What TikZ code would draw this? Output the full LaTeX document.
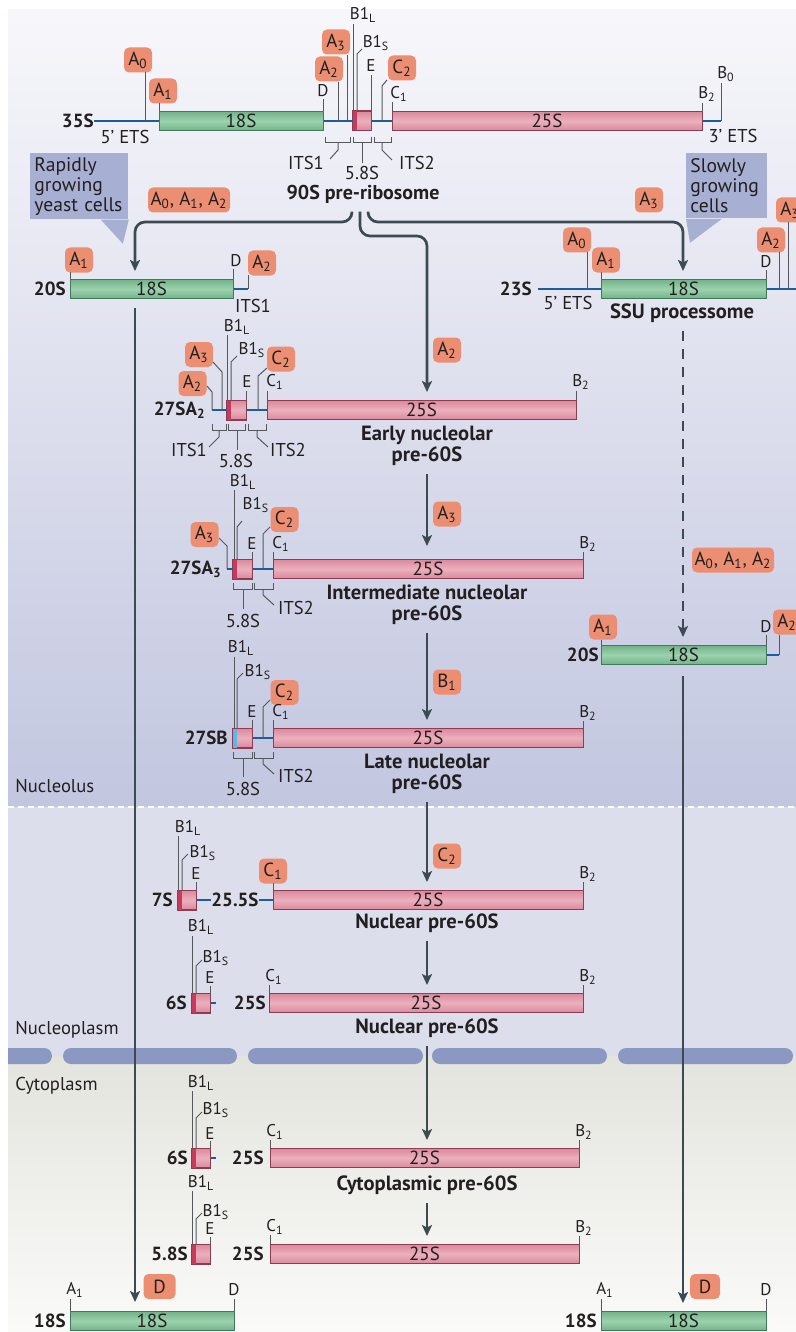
\documentclass[tikz,border=0pt]{standalone}
\usepackage{fontspec}
\setmainfont{PT Sans}
\usepackage{xcolor}
\usepackage{tikz}
\usetikzlibrary{arrows.meta, positioning, calc}

\definecolor{tagfill}{HTML}{EB8E71}
\definecolor{greenfill}{HTML}{9CD2AE}
\definecolor{greenedge}{HTML}{72B389}
\definecolor{greenline}{HTML}{3F7A5A}
\definecolor{pinkfill}{HTML}{EBB0BD}
\definecolor{pinkedge}{HTML}{DB8A9D}
\definecolor{pinkline}{HTML}{8C3D52}
\definecolor{pinkdark}{HTML}{C8395E}
\definecolor{stripeblue}{HTML}{5BB8E6}
\definecolor{rnablue}{HTML}{1E5C9E}
\definecolor{tickgray}{HTML}{55595E}
\definecolor{arrowgray}{HTML}{3D4A53}
\definecolor{lavender}{HTML}{A7B0D3}
\definecolor{nucltop}{HTML}{F7F7FB}
\definecolor{nuclbot}{HTML}{C2C6DF}
\definecolor{nucleoplasm}{HTML}{DCDEEC}
\definecolor{cytotop}{HTML}{E4E4DE}
\definecolor{cytobot}{HTML}{FAFAF9}
\definecolor{membrane}{HTML}{8A98C2}
\definecolor{textdark}{HTML}{231F20}

\newcommand{\lo}[1]{\textsubscript{#1}}

\begin{document}
\begin{tikzpicture}[
  x=0.5pt, y=-0.5pt,
  every node/.style={text=textdark},
  flow/.style={draw=arrowgray, line width=1.35pt, -{Stealth[length=5.5pt, width=5pt, inset=1.2pt]}, shorten >=4pt, shorten <=3pt},
  rna/.style={draw=rnablue, line width=1.3pt},
  cut/.style={draw=tickgray, line width=0.5pt},
  bar18/.style={draw=greenline, top color=greenedge, bottom color=greenedge, middle color=greenfill, line width=0.5pt, minimum height=9.5pt, inner sep=0pt, font=\fontsize{9.5}{10}\selectfont},
  bar25/.style={bar18, draw=pinkline, top color=pinkedge, bottom color=pinkedge, middle color=pinkfill},
  box58/.style={bar25, minimum width=9pt},
  tag/.style={fill=tagfill, rounded corners=2.5pt, minimum width=14pt, minimum height=12.5pt, inner sep=1pt, font=\fontsize{9.5}{10}\selectfont},
  site/.style={inner sep=0.5pt, font=\fontsize{8.5}{9}\selectfont},
  rnaname/.style={inner sep=0pt, font=\fontsize{9.5}{10}\selectfont\bfseries},
  stage/.style={inner sep=1pt, align=center, font=\fontsize{10.3}{10.5}\selectfont\bfseries},
  note/.style={inner sep=0pt, font=\fontsize{9.3}{10}\selectfont},
  cellbox/.style={fill=lavender, anchor=north west, inner sep=2pt, align=left, font=\fontsize{9.8}{10}\selectfont}
]

\useasboundingbox (0,0) rectangle (796,1332);
\begin{scope}
\clip (0,0) rectangle (796,1332);

% compartments
\fill[white] (0,0) rectangle (796,1332);
\shade[top color=nucltop, bottom color=nuclbot] (8,10) rectangle (796,807);
\fill[nucleoplasm] (8,807) rectangle (796,1056);
\shade[top color=cytotop, bottom color=cytobot] (8,1056) rectangle (796,1332);
\draw[white, line width=1pt, dash pattern=on 3pt off 2pt] (8,807) -- (796,807);
\begin{scope}
\clip (8,1040) rectangle (796,1070);
\foreach \a/\b in {-20/52, 63/237, 248/423, 432/607, 618/793}
  \fill[membrane, rounded corners=4pt] (\a,1048) rectangle (\b,1064);
\end{scope}
\node[note, anchor=west] (nucleolus) at (15,786) {Nucleolus};
\node[note, anchor=west] (nucleoplasm) at (15,1030) {Nucleoplasm};
\node[note, anchor=west] (cytoplasm) at (15,1086) {Cytoplasm};

% 35S primary transcript
\node[rnaname, anchor=east] (n35) at (94,121) {35S};
\node[bar18, minimum width=82pt] (s35a) at (241,121) {18S};
\node[box58] (s35b) at (362,121) {};
\fill[pinkdark] (s35b.north west) rectangle ([xshift=2pt]s35b.south west);
\draw[pinkline, line width=0.5pt] (s35b.north west) rectangle (s35b.south east);
\node[bar25, minimum width=155pt] (s35c) at (547,121) {25S};
\draw[rna] (n35.east) -- (s35a.west);
\draw[rna] (s35a.east) -- (s35b.west);
\draw[rna] (s35b.east) -- (s35c.west);
\draw[rna] (s35c.east) -- (721,121);
\node[tag] (a0top) at (138,60) {A\lo{0}};
\draw[cut] (145,72) -- (145,121);
\node[tag] (a1top) at (163,91) {A\lo{1}};
\draw[cut] (159,103) -- (159,111);
\node[site] (dtop) at (323,91) {D};
\draw[cut] (323,99) -- (323,111);
\node[tag] (a2top) at (329,69) {A\lo{2}};
\draw[cut] (338,82) -- (338,121);
\node[tag] (a3top) at (336,42) {A\lo{3}};
\draw[cut] (347,55) -- (347,121);
\node[site] (b1ltop) at (363,15) {B1\lo{L}};
\draw[cut] (353,24) -- (353,111);
\node[site] (b1stop) at (376,43) {B1\lo{S}};
\draw[cut] (357,111) -- (357,54) -- (362,49);
\node[site] (etop) at (371,66) {E};
\draw[cut] (371,75) -- (371,111);
\node[tag] (c2top) at (402,68) {C\lo{2}};
\draw[cut] (387,80) -- (382,86) -- (382,121);
\node[site] (c1top) at (399,94) {C\lo{1}};
\draw[cut] (392,102) -- (392,111);
\node[site] (b2top) at (707,94) {B\lo{2}};
\draw[cut] (702,103) -- (702,111);
\node[site] (b0top) at (726,74) {B\lo{0}};
\draw[cut] (721,83) -- (721,121);
\node[note] (ets5top) at (125,137) {5’ ETS};
\node[note] (ets3top) at (733,136) {3’ ETS};
\draw[cut] (325,137) -- (325,143) -- (350,143) -- (350,137);
\draw[cut] (338,143) -- (338,150) -- (330,159);
\node[note] (its1top) at (306,163) {ITS1};
\draw[cut] (353,137) -- (353,143) -- (371,143) -- (371,137);
\draw[cut] (362,143) -- (362,163);
\node[note] (s58top) at (362,173) {5.8S};
\draw[cut] (374,137) -- (374,143) -- (391,143) -- (391,137);
\draw[cut] (382,143) -- (382,150) -- (392,160);
\node[note] (its2top) at (417,163) {ITS2};
\node[stage, font=\fontsize{10}{10.5}\selectfont\bfseries] (n90) at (363,194) {90S pre-ribosome};

% growth conditions
\node[cellbox, text width=45pt, minimum height=32.5pt] (rapid) at (30,153) {Rapidly\\growing\\yeast cells};
\fill[lavender] ([xshift=-14pt]rapid.south east) -- (rapid.south east) -- ([xshift=-3pt, yshift=-12pt]rapid.south east) -- cycle;
\node[cellbox, text width=36.5pt, minimum height=32.5pt] (slow) at (686,153) {Slowly\\growing\\cells};
\fill[lavender] (slow.south west) -- ([xshift=18pt]slow.south west) -- ([xshift=2pt, yshift=-12pt]slow.south west) -- cycle;
\node[tag, minimum width=41pt] (fastcut) at (189,200) {A\lo{0}, A\lo{1}, A\lo{2}};
\node[tag] (slowcut) at (649,200) {A\lo{3}};

% 20S (fast route)
\node[rnaname, anchor=east] (n20a) at (66,289) {20S};
\node[bar18, minimum width=81.5pt] (s20a) at (151.5,289) {18S};
\draw[rna] (s20a.east) -- (248,289);
\node[tag] (a1l) at (79,260) {A\lo{1}};
\draw[cut] (70,272) -- (70,279);
\node[site] (dl) at (236,261) {D};
\draw[cut] (233,269) -- (233,279);
\node[tag] (a2l) at (262,263) {A\lo{2}};
\draw[cut] (248,275) -- (248,289);
\node[note] (its1l) at (253,306) {ITS1};

% 23S (slow route)
\node[rnaname, anchor=east] (n23) at (532,289) {23S};
\node[bar18, minimum width=82.5pt] (s23) at (683.5,289) {18S};
\draw[rna] (538,289) -- (s23.west);
\draw[rna] (s23.east) -- (800,289);
\node[tag] (a0r) at (577,240) {A\lo{0}};
\draw[cut] (587,252) -- (587,289);
\node[tag] (a1r) at (606,260) {A\lo{1}};
\draw[cut] (601,272) -- (601,279);
\node[note] (ets5r) at (568,303) {5’ ETS};
\node[stage] (ssu) at (682,313) {SSU processome};
\node[site] (dr) at (766,262) {D};
\draw[cut] (766,270) -- (766,279);
\node[tag] (a2r) at (771,240) {A\lo{2}};
\draw[cut] (779,252) -- (779,289);
\node[tag] (a3r) at (790,210) {A\lo{3}};
\draw[cut] (788,222) -- (788,289);

% 20S (slow route)
\node[rnaname, anchor=east] (n20b) at (599,655) {20S};
\node[bar18, minimum width=82.5pt] (s20b) at (683.5,655) {18S};
\draw[rna] (s20b.east) -- (779,655);
\node[tag] (a1m) at (603,627) {A\lo{1}};
\draw[cut] (601,640) -- (601,645);
\node[site] (dm) at (766,627) {D};
\draw[cut] (766,635) -- (766,645);
\node[tag] (a2m) at (787,622) {A\lo{2}};
\draw[cut] (779,635) -- (779,655);
\node[tag, minimum width=41pt] (slowcut2) at (733,560) {A\lo{0}, A\lo{1}, A\lo{2}};

% 27SA2
\node[rnaname, anchor=east] (n27a2) at (206,410) {27SA\lo{2}};
\node[box58, minimum width=9.5pt] (b27a) at (236.5,410) {};
\fill[pinkdark] (b27a.north west) rectangle ([xshift=2pt]b27a.south west);
\draw[pinkline, line width=0.5pt] (b27a.north west) rectangle (b27a.south east);
\node[bar25, minimum width=154.5pt] (r27a) at (421.5,410) {25S};
\draw[rna] (212,410) -- (b27a.west);
\draw[rna] (b27a.east) -- (r27a.west);
\node[tag] (a2s) at (192.5,383.5) {A\lo{2}};
\draw[cut] (207,386) -- (212,392) -- (212,410);
\node[tag] (a3s) at (199,354.5) {A\lo{3}};
\draw[cut] (213,362) -- (222,372) -- (222,410);
\node[site] (b1la) at (237,327) {B1\lo{L}};
\draw[cut] (227,335) -- (227,400);
\node[site] (b1sa) at (252,350) {B1\lo{S}};
\draw[cut] (231,400) -- (231,362) -- (237,356);
\node[site] (ea) at (247,382) {E};
\draw[cut] (246,391) -- (246,400);
\node[tag] (c2a) at (281,359) {C\lo{2}};
\draw[cut] (267,368) -- (258,376) -- (258,410);
\node[site] (c1a) at (275,382) {C\lo{1}};
\draw[cut] (267,391) -- (267,400);
\node[site] (b2a) at (581,382) {B\lo{2}};
\draw[cut] (576,391) -- (576,400);
\draw[cut] (212,424) -- (212,430) -- (226,430) -- (226,424);
\draw[cut] (219,430) -- (219,437) -- (209,447);
\node[note] (its1a) at (189,450) {ITS1};
\draw[cut] (228,424) -- (228,430) -- (245,430) -- (245,424);
\draw[cut] (237,430) -- (237,450);
\node[note] (s58a) at (236,461) {5.8S};
\draw[cut] (248,424) -- (248,430) -- (266,430) -- (266,424);
\draw[cut] (257,430) -- (257,437) -- (268,447);
\node[note] (its2a) at (288,450) {ITS2};
\node[stage] (n27a) at (427,446) {Early nucleolar\\pre-60S};

% 27SA3
\node[rnaname, anchor=east] (n27a3) at (222,569) {27SA\lo{3}};
\node[box58, minimum width=9.5pt] (b27b) at (242.5,569) {};
\fill[pinkdark] (b27b.north west) rectangle ([xshift=2pt]b27b.south west);
\draw[pinkline, line width=0.5pt] (b27b.north west) rectangle (b27b.south east);
\node[bar25, minimum width=155pt] (r27b) at (428,569) {25S};
\draw[rna] (227,569) -- (b27b.west);
\draw[rna] (b27b.east) -- (r27b.west);
\node[tag] (a3b) at (204.5,534.5) {A\lo{3}};
\draw[cut] (219,538) -- (227,546) -- (227,569);
\node[site] (b1lb) at (243,482) {B1\lo{L}};
\draw[cut] (234,490) -- (234,559);
\node[site] (b1sb) at (256,505) {B1\lo{S}};
\draw[cut] (237,559) -- (237,527) -- (242,521);
\node[site] (eb) at (252,544) {E};
\draw[cut] (252,552) -- (252,559);
\node[tag] (c2b) at (284.5,519.5) {C\lo{2}};
\draw[cut] (270,527) -- (263,534) -- (263,569);
\node[site] (c1b) at (281,544) {C\lo{1}};
\draw[cut] (273,552) -- (273,559);
\node[site] (b2b) at (588,544) {B\lo{2}};
\draw[cut] (583,552) -- (583,559);
\draw[cut] (233,583) -- (233,589) -- (252,589) -- (252,583);
\draw[cut] (243,589) -- (243,609);
\node[note] (s58b) at (243,621) {5.8S};
\draw[cut] (254,583) -- (254,589) -- (273,589) -- (273,583);
\draw[cut] (263,589) -- (263,595) -- (274,605);
\node[note] (its2b) at (296,608) {ITS2};
\node[stage] (n27b) at (427,605) {Intermediate nucleolar\\pre-60S};

% 27SB
\node[rnaname, anchor=east] (n27sb) at (228,738) {27SB};
\node[box58, minimum width=9.5pt] (b27c) at (242.5,738) {};
\fill[stripeblue] (b27c.north west) rectangle ([xshift=2pt]b27c.south west);
\draw[pinkline, line width=0.5pt] (b27c.north west) rectangle (b27c.south east);
\node[bar25, minimum width=155pt] (r27c) at (428,738) {25S};
\draw[rna] (b27c.east) -- (r27c.west);
\node[site] (b1lc) at (241,648) {B1\lo{L}};
\draw[cut] (234,657) -- (234,728);
\node[site] (b1sc) at (258,672) {B1\lo{S}};
\draw[cut] (237,728) -- (237,679) -- (243,673);
\node[site] (ec) at (252,712) {E};
\draw[cut] (252,720) -- (252,728);
\node[tag] (c2c) at (284.5,692.5) {C\lo{2}};
\draw[cut] (270,700) -- (263,707) -- (263,738);
\node[site] (c1c) at (281,712) {C\lo{1}};
\draw[cut] (273,720) -- (273,728);
\node[site] (b2c) at (588,713) {B\lo{2}};
\draw[cut] (583,721) -- (583,728);
\draw[cut] (233,752) -- (233,758) -- (252,758) -- (252,752);
\draw[cut] (243,758) -- (243,777);
\node[note] (s58c) at (243,789) {5.8S};
\draw[cut] (254,752) -- (254,758) -- (273,758) -- (273,752);
\draw[cut] (263,758) -- (263,764) -- (274,774);
\node[note] (its2c) at (296,776) {ITS2};
\node[stage] (n27c) at (427,774) {Late nucleolar\\pre-60S};

% 7S and 25.5S
\node[rnaname, anchor=east] (n7s) at (173,900) {7S};
\node[box58] (b7) at (187,900) {};
\fill[pinkdark] (b7.north west) rectangle ([xshift=2pt]b7.south west);
\draw[pinkline, line width=0.5pt] (b7.north west) rectangle (b7.south east);
\node[rnaname] (n255) at (235,900) {25.5S};
\node[bar25, minimum width=155pt] (r7) at (428,900) {25S};
\draw[rna] (b7.east) -- (n255.west);
\draw[rna] (n255.east) -- (r7.west);
\node[site] (b1ld) at (188,828) {B1\lo{L}};
\draw[cut] (178,836) -- (178,890);
\node[site] (b1sd) at (203,853) {B1\lo{S}};
\draw[cut] (182,890) -- (182,860) -- (188,854);
\node[site] (ed) at (196,874) {E};
\draw[cut] (196,882) -- (196,890);
\node[tag] (c1d) at (273,871) {C\lo{1}};
\draw[cut] (273,883) -- (273,890);
\node[site] (b2d) at (588,874) {B\lo{2}};
\draw[cut] (583,882) -- (583,890);
\node[stage] (n7) at (427,923) {Nuclear pre-60S};

% 6S nuclear
\node[rnaname, anchor=east] (n6sa) at (187,1003) {6S};
\node[box58] (b6a) at (201,1003) {};
\fill[pinkdark] (b6a.north west) rectangle ([xshift=2pt]b6a.south west);
\draw[pinkline, line width=0.5pt] (b6a.north west) rectangle (b6a.south east);
\draw[rna] (b6a.east) -- (216,1003);
\node[rnaname, anchor=east] (n25a) at (266,1003) {25S};
\node[bar25, minimum width=157pt] (r6a) at (426,1003) {25S};
\node[site] (b1le) at (201,927) {B1\lo{L}};
\draw[cut] (192,936) -- (192,993);
\node[site] (b1se) at (216,958) {B1\lo{S}};
\draw[cut] (196,993) -- (196,966) -- (202,960);
\node[site] (ee) at (210,978) {E};
\draw[cut] (210,986) -- (210,993);
\node[site] (c1e) at (274,977) {C\lo{1}};
\draw[cut] (269,985) -- (269,993);
\node[site] (b2e) at (588,977) {B\lo{2}};
\draw[cut] (583,985) -- (583,993);
\node[stage] (n6a) at (427,1028) {Nuclear pre-60S};

% 6S cytoplasmic
\node[rnaname, anchor=east] (n6sb) at (188,1158) {6S};
\node[box58] (b6b) at (201,1158) {};
\fill[pinkdark] (b6b.north west) rectangle ([xshift=2pt]b6b.south west);
\draw[pinkline, line width=0.5pt] (b6b.north west) rectangle (b6b.south east);
\draw[rna] (b6b.east) -- (216,1158);
\node[rnaname, anchor=east] (n25b) at (264,1158) {25S};
\node[bar25, minimum width=154.5pt] (r6b) at (424.5,1158) {25S};
\node[site] (b1lf) at (201,1083) {B1\lo{L}};
\draw[cut] (192,1091) -- (192,1148);
\node[site] (b1sf) at (216,1110) {B1\lo{S}};
\draw[cut] (196,1148) -- (196,1118) -- (202,1112);
\node[site] (ef) at (210,1134) {E};
\draw[cut] (210,1141) -- (210,1148);
\node[site] (c1f) at (275,1132) {C\lo{1}};
\draw[cut] (270,1140) -- (270,1148);
\node[site] (b2f) at (584,1132) {B\lo{2}};
\draw[cut] (579,1140) -- (579,1148);
\node[stage] (nc) at (427,1185) {Cytoplasmic pre-60S};

% 5.8S cytoplasmic
\node[rnaname, anchor=east] (n58) at (188,1254) {5.8S};
\node[box58] (b58) at (201,1254) {};
\fill[pinkdark] (b58.north west) rectangle ([xshift=2pt]b58.south west);
\draw[pinkline, line width=0.5pt] (b58.north west) rectangle (b58.south east);
\node[rnaname, anchor=east] (n25c) at (264,1254) {25S};
\node[bar25, minimum width=154.5pt] (r58) at (424.5,1254) {25S};
\node[site] (b1lg) at (201,1183) {B1\lo{L}};
\draw[cut] (192,1191) -- (192,1244);
\node[site] (b1sg) at (216,1212) {B1\lo{S}};
\draw[cut] (196,1244) -- (196,1219) -- (202,1213);
\node[site] (eg) at (210,1229) {E};
\draw[cut] (210,1237) -- (210,1244);
\node[site] (c1g) at (275,1227) {C\lo{1}};
\draw[cut] (270,1235) -- (270,1244);
\node[site] (b2g) at (584,1228) {B\lo{2}};
\draw[cut] (579,1236) -- (579,1244);

% mature 18S
\node[rnaname, anchor=east] (n18a) at (66,1321) {18S};
\node[bar18, minimum width=82pt] (s18a) at (152,1321) {18S};
\node[site] (a1f) at (75,1290) {A\lo{1}};
\draw[cut] (70,1299) -- (70,1311);
\node[site] (df) at (234,1290) {D};
\draw[cut] (234,1299) -- (234,1311);
\node[tag, minimum width=16pt] (dcut1) at (159.5,1286.5) {D};
\node[rnaname, anchor=east] (n18b) at (597,1321) {18S};
\node[bar18, minimum width=82.5pt] (s18b) at (683.5,1321) {18S};
\node[site] (a1g) at (605,1290) {A\lo{1}};
\draw[cut] (601,1299) -- (601,1311);
\node[site] (dg) at (766,1290) {D};
\draw[cut] (766,1299) -- (766,1311);
\node[tag, minimum width=15pt] (dcut2) at (705,1286.5) {D};

% processing routes
\coordinate (k1) at (135,222);
\coordinate (k2) at (427,236);
\coordinate (k3) at (683,222);
\draw[flow, rounded corners=5pt] ([xshift=-5.5pt]n90.south) |- (k1) -- (k1 |- s20a.north);
\draw[flow, rounded corners=5pt] ([xshift=-1.5pt]n90.south) |- (k2) -- (k2 |- r27a.north);
\draw[flow, rounded corners=5pt] ([xshift=2.5pt]n90.south) |- (k3) -- (k3 |- s23.north);
\node[tag] (a2mid) at (447,350) {A\lo{2}};
\draw[flow, shorten >=6.5pt] (n27a.south) -- (n27a.south |- r27b.north);
\node[tag] (a3mid) at (447,514) {A\lo{3}};
\draw[flow] (n27b.south) -- (n27b.south |- r27c.north);
\node[tag] (b1mid) at (447,682) {B\lo{1}};
\draw[flow] (n27c.south) -- (n27c.south |- r7.north);
\node[tag] (c2mid) at (447,856) {C\lo{2}};
\draw[flow] (n7.south) -- (n7.south |- r6a.north);
\draw[flow] (n6a.south) -- (n6a.south |- r6b.north);
\draw[flow] (nc.south) -- (nc.south |- r58.north);
\draw[flow, dash pattern=on 5pt off 4pt] (k3 |- ssu.south) -- (k3 |- s20b.north);
\draw[flow, shorten <=5.5pt] (k3 |- s20b.south) -- (k3 |- s18b.north);
\draw[flow, shorten <=4.5pt, shorten >=4.5pt] (k1 |- s20a.south) -- (k1 |- s18a.north);

\end{scope}
\end{tikzpicture}
\end{document}
